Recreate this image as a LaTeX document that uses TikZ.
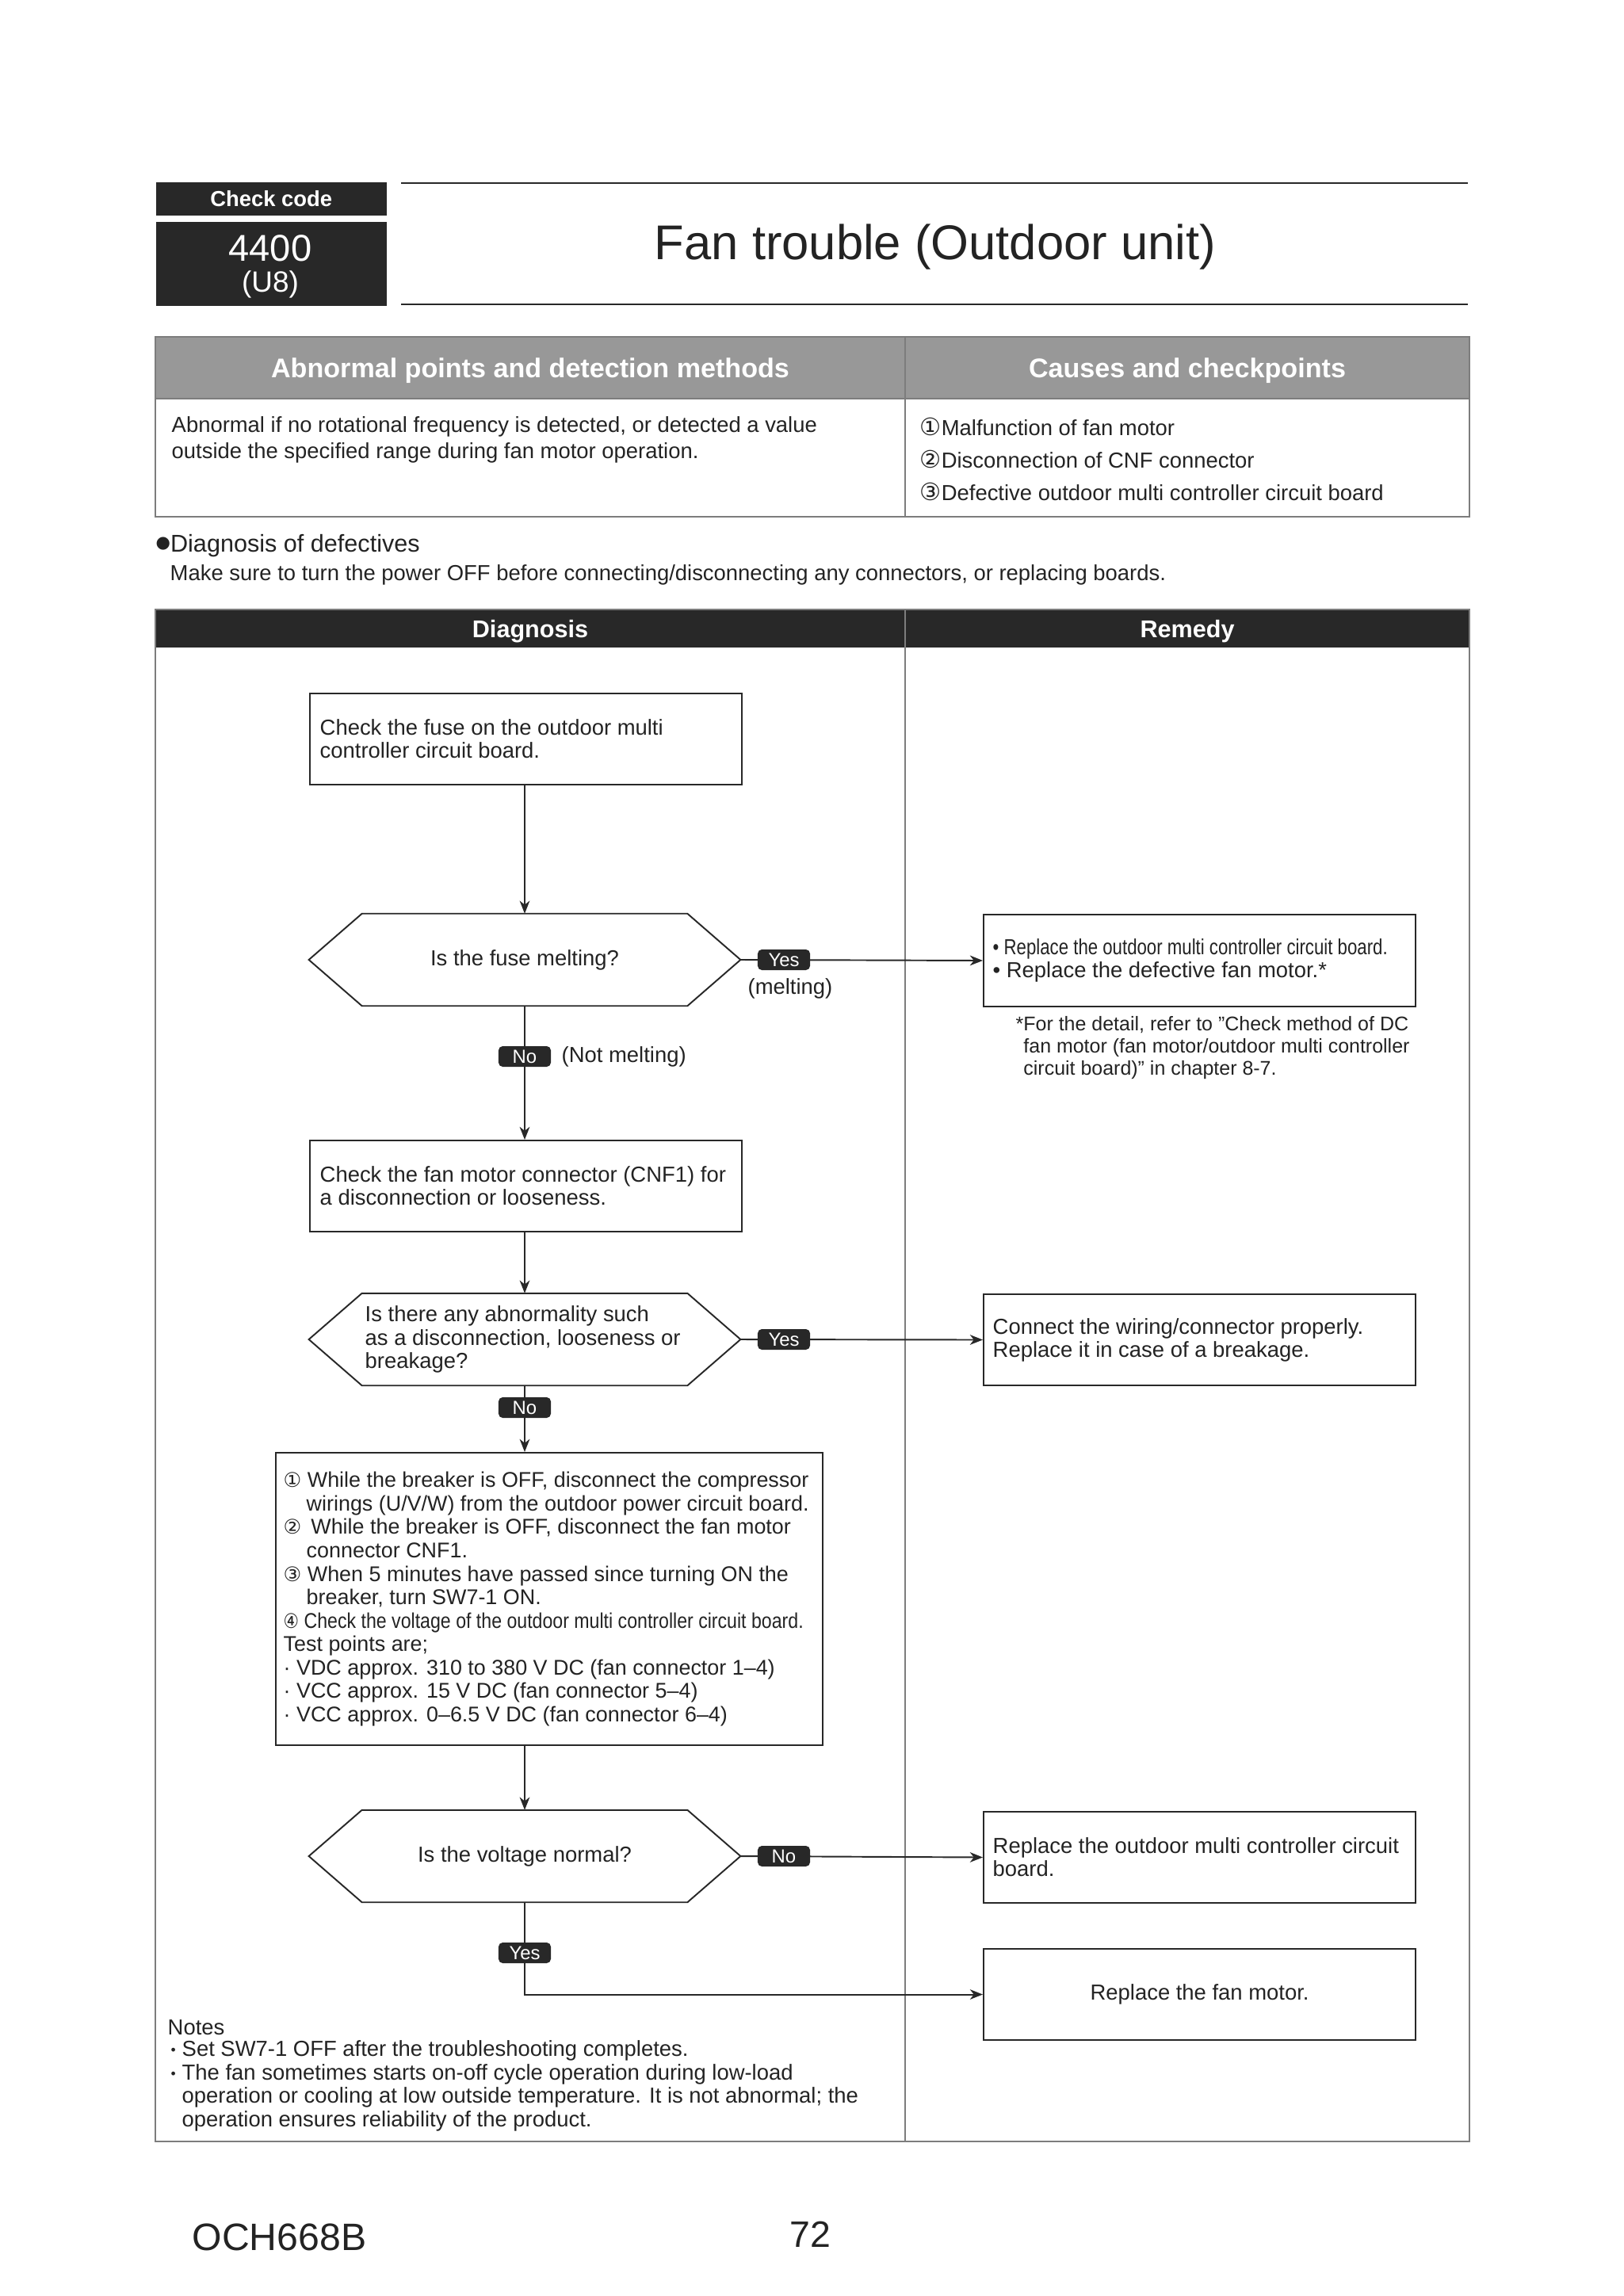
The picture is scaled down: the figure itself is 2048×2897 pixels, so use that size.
\documentclass[tikz,border=0pt]{standalone}
\usepackage{fontspec}
\setmainfont{Liberation Sans}
\newfontfamily\symf{DejaVu Sans}
\usetikzlibrary{arrows.meta,calc}
\definecolor{dk}{RGB}{40,40,40}
\definecolor{hdr}{RGB}{152,152,152}
\definecolor{frm}{RGB}{125,125,125}
\definecolor{txt}{RGB}{35,35,35}
\newcommand{\bodyf}{\fontsize{7.8}{8.3}\selectfont}
\newcommand{\cn}[1]{{\symf\fontsize{7.2}{8}\selectfont #1}}
\newcommand{\cnb}[1]{{\symf\fontsize{8.6}{8}\selectfont #1}}
\newcommand{\hexdraw}[1]{\draw[ln] (#1.west) -- ([xshift=0.67cm]#1.north west) -- ([xshift=-0.67cm]#1.north east) -- (#1.east) -- ([xshift=-0.67cm]#1.south east) -- ([xshift=0.67cm]#1.south west) -- cycle;}
\newcommand{\smbul}{\makebox[0.14cm][l]{\fontsize{5}{5}\selectfont\raisebox{0.25ex}{•}}}
\begin{document}
\begin{tikzpicture}[x=0.01cm,y=-0.01cm,
 every node/.style={text=txt, inner sep=0pt},
 ln/.style={draw=dk, line width=0.55pt},
 arr/.style={ln, -{Stealth[length=4.6pt,width=3.6pt,inset=1.4pt]}},
 fbox/.style={draw=dk, line width=0.55pt, anchor=north west, minimum width=5.45cm, minimum height=1.15cm},
 btxt/.style={anchor=west, align=left, font=\bodyf},
 hexph/.style={minimum width=5.43cm, minimum height=1.15cm, font=\bodyf},
 yn/.style={fill=dk, text=white, rounded corners=1.5pt, minimum width=0.66cm, minimum height=0.26cm, inner sep=0pt, font=\fontsize{6.8}{7}\selectfont},
 tframe/.style={draw=frm, line width=0.6pt},
 hwhite/.style={text=white, font=\bfseries\fontsize{9.7}{10}\selectfont},
]
\fill[white] (0,0) rectangle (2048,2897);
\useasboundingbox (0,0) rectangle (2048,2897);

% ---------- heading ----------
\node[fill=dk, minimum width=2.91cm, minimum height=0.42cm, anchor=north west, text=white, font=\bfseries\fontsize{7.8}{8}\selectfont] (cc) at (196,229) {Check code};
\node[fill=dk, minimum width=2.91cm, minimum height=1.06cm, anchor=north west] (code) at (196,279) {};
\node[text=white, font=\fontsize{13.4}{14}\selectfont] (c4400) at (341,313) {4400};
\node[text=white, font=\fontsize{10.5}{11}\selectfont] (cu8) at (341,359) {(U8)};
\draw[dk, line width=0.75pt] (506,231) -- (1852,231);
\draw[dk, line width=0.75pt] (506,384) -- (1852,384);
\node[font=\fontsize{17.5}{18}\selectfont] (title) at (1180,312) {Fan trouble (Outdoor unit)};

% ---------- table 1 ----------
\fill[hdr] (196,425) rectangle (1854,503);
\draw[tframe] (196,425) rectangle (1854,652);
\draw[tframe] (196,503) -- (1854,503);
\draw[tframe] (1142,425) -- (1142,652);
\node[hwhite] (ha) at (669,468) {Abnormal points and detection methods};
\node[hwhite] (hb) at (1498,468) {Causes and checkpoints};
\node[anchor=west, align=left, font=\fontsize{7.8}{9.4}\selectfont] (abn) at (216,555) {Abnormal if no rotational frequency is detected, or detected a value\\outside the specified range during fan motor operation.};
\node[btxt] (ca1) at (1160,538) {\cnb{①}Malfunction of fan motor};
\node[btxt] (ca2) at (1160,579) {\cnb{②}Disconnection of CNF connector};
\node[btxt] (ca3) at (1160,620) {\cnb{③}Defective outdoor multi controller circuit board};

% ---------- section ----------
\node[anchor=west, font=\fontsize{8.7}{9}\selectfont] (diag) at (196,689) {\raisebox{0.35ex}{\symf\fontsize{6}{6}\selectfont ●}Diagnosis of defectives};
\node[anchor=west, font=\bodyf] (make) at (214,725) {Make sure to turn the power OFF before connecting/disconnecting any connectors, or replacing boards.};

% ---------- table 2 ----------
\fill[dk] (196,769) rectangle (1854,817);
\draw[tframe] (196,769) rectangle (1854,2702);
\draw[tframe] (1142,769) -- (1142,2702);
\node[text=white, font=\bfseries\fontsize{8.7}{9}\selectfont] (hd) at (669,797) {Diagnosis};
\node[text=white, font=\bfseries\fontsize{8.7}{9}\selectfont] (hr) at (1498,797) {Remedy};

% ---------- flow ----------
\node[fbox] (b1) at (390,874) {};
\node[btxt] (b1t) at ([xshift=0.13cm]b1.west) {Check the fuse on the outdoor multi\\controller circuit board.};

\node[hexph] (h1) at (662,1211) {Is the fuse melting?};
\hexdraw{h1}

\node[fbox, minimum height=1.16cm] (r1) at (1240,1153) {};
\node[btxt] (r1t) at ([xshift=0.12cm]r1.west) {\scalebox{0.81}[1]{• Replace the outdoor multi controller circuit board.}\\• Replace the defective fan motor.*};
\node[anchor=west, align=left, font=\fontsize{7.1}{7.9}\selectfont] (fn) at (1281,1322) {*For the detail, refer to "Check method of DC\\\phantom{*}fan motor (fan motor/outdoor multi controller\\\phantom{*}circuit board)" in chapter 8-7.};

\node[fbox] (b2) at (390,1438) {};
\node[btxt] (b2t) at ([xshift=0.13cm]b2.west) {Check the fan motor connector (CNF1) for\\a disconnection or looseness.};

\node[hexph] (h2) at (662,1690) {};
\hexdraw{h2}
\node[btxt] (h2t) at (460,1690) {Is there any abnormality such\\as a disconnection, looseness or\\breakage?};

\node[fbox] (r2) at (1240,1632) {};
\node[btxt] (r2t) at ([xshift=0.12cm]r2.west) {Connect the wiring/connector properly.\\Replace it in case of a breakage.};

\node[fbox, minimum width=6.9cm, minimum height=3.69cm] (b3) at (347,1832) {};
\node[anchor=west, align=left, font=\fontsize{7.65}{8.4}\selectfont] (b3t) at ([xshift=0.1cm]b3.west) {%
\cn{①} While the breaker is OFF, disconnect the compressor\\
\hspace*{0.29cm}wirings (U/V/W) from the outdoor power circuit board.\\
\cn{②}\, While the breaker is OFF, disconnect the fan motor\\
\hspace*{0.29cm}connector CNF1.\\
\cn{③} When 5 minutes have passed since turning ON the\\
\hspace*{0.29cm}breaker, turn SW7-1 ON.\\
\scalebox{0.86}[1]{\cn{④} Check the voltage of the outdoor multi controller circuit board.}\\
Test points are;\\
· VDC approx. 310 to 380 V DC (fan connector 1–4)\\
· VCC approx. 15 V DC (fan connector 5–4)\\
· VCC approx. 0–6.5 V DC (fan connector 6–4)};

\node[hexph] (h3) at (662,2342) {Is the voltage normal?};
\hexdraw{h3}

\node[fbox] (r3) at (1240,2285) {};
\node[btxt] (r3t) at ([xshift=0.12cm]r3.west) {Replace the outdoor multi controller circuit\\board.};

\node[fbox] (r4) at (1240,2458) {};
\node[font=\bodyf] (r4t) at (r4.center) {Replace the fan motor.};

% connectors
\draw[arr] (b1.south -| h1.north) -- (h1.north);
\draw[arr] (h1.east) -- (r1.west);
\draw[arr] (h1.south) -- (h1.south |- b2.north);
\draw[arr] (b2.south -| h2.north) -- (h2.north);
\draw[arr] (h2.east) -- (r2.west);
\draw[arr] (h2.south) -- (h2.south |- b3.north);
\draw[arr] (h3.north |- b3.south) -- (h3.north);
\draw[arr] (h3.east) -- (r3.west);
\draw[arr] (h3.south) |- (r4.west);

\node[yn] (y1) at (989,1211) {Yes};
\node[font=\bodyf] (m1) at (997,1247) {(melting)};
\node[yn] (n1) at (662,1333) {No};
\node[anchor=west, font=\bodyf] (nm) at (708,1333) {(Not melting)};
\node[yn] (y2) at (989,1690) {Yes};
\node[yn] (n2) at (662,1776) {No};
\node[yn] (n3) at (989,2342) {No};
\node[yn] (y3) at (662,2464) {Yes};

% notes
\node[anchor=west, font=\bodyf] (notes) at (211,2558) {Notes};
\node[anchor=west, align=left, font=\fontsize{7.8}{8.4}\selectfont] (nt) at (215,2632) {%
\smbul Set SW7-1 OFF after the troubleshooting completes.\\
\smbul The fan sometimes starts on-off cycle operation during low-load\\
\hspace*{0.14cm}operation or cooling at low outside temperature. It is not abnormal; the\\
\hspace*{0.14cm}operation ensures reliability of the product.};

% footer
\node[anchor=west, font=\fontsize{13.7}{14}\selectfont] (doc) at (242,2823) {OCH668B};
\node[font=\fontsize{13.2}{14}\selectfont] (pg) at (1022,2819) {72};
\end{tikzpicture}
\end{document}
